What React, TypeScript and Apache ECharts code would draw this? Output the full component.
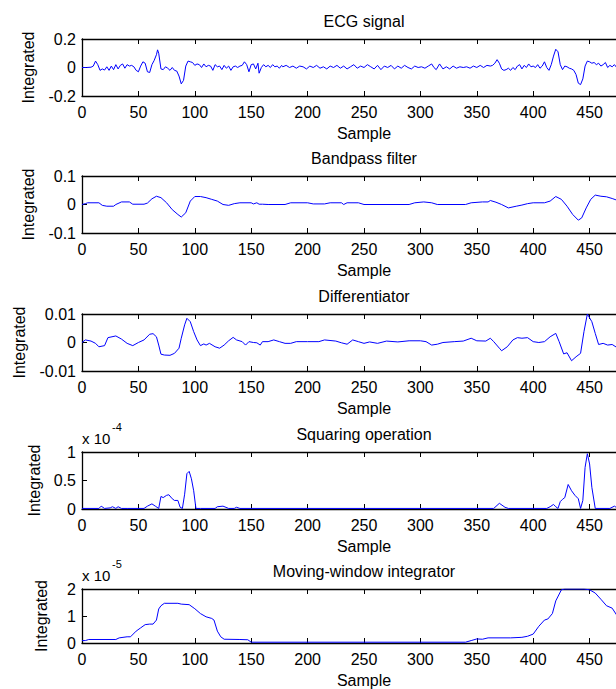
import React, { useEffect, useRef } from "react";
import * as echarts from "echarts";

// ---- Data (sample index, value) ----
const ecgX = [0,4,8,10,12,14,16,18,20,22,24,26,28,30,32,34,36,38,40,42,44,46,48,50,52,54,56,58,60,62,64,66,67,68,70,72,74,76,78,80,82,84,86,88,90,92,94,96,98,100,102,104,106,108,110,112,114,116,118,120,122,124,126,128,130,132,134,136,138,140,142,144,146,148,150,152,154,156,157,159,161,163,165,167,169,171,173,175,177,178,181,184,187,190,193,196,199,202,205,208,211,214,217,220,223,226,229,232,235,238,241,244,247,250,253,256,259,262,265,268,271,274,277,280,283,286,289,292,295,298,301,304,307,310,312,314,317,320,323,326,329,332,335,338,341,344,347,350,353,356,359,362,364,366,368,370,372,374,376,378,380,382,384,386,388,390,392,394,396,398,400,402,404,406,408,410,412,414,416,418,420,422,424,426,428,430,432,434,436,438,440,442,444,446,448,450,452,454,456,458,460,462,464,466,468,470,472,474,476,478];
const ecgY = [0,0,0.002,0.01,0.045,0.02,-0.02,-0.01,-0.018,0.005,-0.02,0.01,-0.015,0.02,-0.01,0.015,0.025,-0.005,0.02,0.01,0.015,0.005,-0.02,-0.03,0.01,0.04,0.03,-0.03,-0.035,0.02,0.05,0.09,0.124,0.1,-0.01,-0.015,0.005,-0.005,-0.02,0,-0.02,-0.025,-0.06,-0.115,-0.09,0.01,0.045,0.04,0.035,0.015,0.025,0.02,0,0.025,0.005,0.015,0.01,-0.02,0.02,0.005,0.01,-0.015,0.015,-0.005,0.01,-0.02,0.005,0.01,0,0.01,0.015,0.04,0.02,-0.03,0.02,0.025,-0.01,0.03,-0.04,0,0.02,0.005,0.015,0,0.02,0.005,0.01,-0.005,0.015,0.005,0.015,0,0.01,-0.005,0.01,0.005,-0.01,0.01,0,0.015,-0.005,0.005,-0.01,0.01,0,0.015,-0.005,0.01,-0.01,0.005,0.02,-0.005,0.01,0,0.02,0.005,-0.01,0.015,-0.015,0.01,0,0.015,-0.01,0.01,-0.005,0.015,0,-0.01,0.01,0,0.005,-0.005,0.01,0.025,0,-0.015,0.025,-0.01,0.005,-0.01,0.01,-0.005,0.005,0,0.005,-0.005,0.01,0,0.015,0,0.015,0.01,0.015,0.03,0.055,0.03,-0.01,-0.02,-0.015,-0.005,-0.02,0,-0.015,0.01,0.02,-0.01,0.015,0,0.025,0.005,0.01,0,0.02,-0.005,0.01,0.04,0,-0.02,0.02,0.08,0.128,0.11,0.02,-0.015,0.01,0.005,-0.005,-0.01,-0.02,-0.05,-0.11,-0.12,-0.08,0.01,0.045,0.04,0.03,0.035,0.02,0.03,0.01,0.02,0.035,0,0.015,0.005,0.02,0,0.01,0];

const bpX = [0,3,5,15,18,22,28,30,35,42,45,55,58,62,66,70,75,80,85,88,92,96,100,105,110,115,120,125,130,135,140,150,152,155,157,160,165,180,185,200,205,215,220,230,232,235,245,250,290,295,303,310,315,340,345,355,360,362,367,372,378,385,390,395,400,410,415,420,425,430,435,440,443,447,451,455,460,465,470,475,480];
const bpY = [0,0.003,0.006,0.006,-0.003,-0.006,-0.006,0,0.009,0.009,0.001,0.001,0.005,0.02,0.029,0.024,0.006,-0.018,-0.035,-0.044,-0.029,0.012,0.028,0.028,0.024,0.018,0.012,0,-0.003,0.003,0.006,0.006,0.002,0.006,0.001,0.001,0,0,0.006,0.006,0.002,0.002,0.006,0.006,0,0.006,0.006,0,0,0.006,0.009,0.006,0,0,0.006,0.009,0.009,0.014,0.008,0,-0.012,-0.006,-0.002,0.003,0.006,0.006,0.012,0.028,0.018,-0.006,-0.035,-0.055,-0.047,-0.012,0.018,0.033,0.029,0.027,0.021,0.014,0.008];

const dfX = [0,3,8,12,15,20,23,30,35,40,45,50,55,60,63,66,68,70,73,78,82,86,88,91,93,96,99,102,105,108,110,113,118,122,126,130,134,137,142,145,148,152,155,158,160,165,170,175,180,185,190,200,210,215,225,230,235,240,245,250,255,262,270,280,290,300,305,310,315,320,330,338,345,350,358,362,365,370,372,377,382,386,390,395,400,405,410,415,420,423,427,430,434,438,442,445,448,452,455,458,462,466,470,474,478];
const dfY = [0,0.0009,0.0005,-0.0003,-0.0015,-0.0011,0.0017,0.0023,0.0012,-0.0003,-0.0011,0,0.0009,0.0029,0.0031,0.002,-0.0009,-0.0041,-0.0044,-0.0045,-0.0038,-0.002,0.0015,0.0062,0.0085,0.0073,0.0038,0.0009,-0.0011,-0.0005,-0.0009,-0.0003,-0.0015,-0.002,-0.0009,0.0006,0.0018,0.0009,0.0003,-0.0009,0.0003,0,-0.0001,-0.0009,0.0003,0.0003,0.0009,0.0003,-0.0003,-0.0003,0.0003,0.0003,0.0003,0.0009,0.0005,-0.0001,-0.0006,0.0009,0.0003,-0.0003,0.0002,-0.0003,0.0005,0.0002,0.0006,0.0006,0.0003,-0.0009,-0.0006,0,0.0003,0.0005,0.0015,0.0006,0.0005,0.0015,0.0003,-0.002,-0.0029,-0.0015,0.0009,0.0017,0.0015,0.0017,0.0003,0,0.0003,0.002,0.0032,0.0003,-0.004,-0.0036,-0.0064,-0.005,-0.0038,0.0038,0.01,0.0073,0.0032,-0.0007,-0.0003,-0.0009,-0.0007,-0.0017,-0.0017];

// Squaring operation, in units of 1e-4
const sqX = [0,15,17,20,25,27,30,32,35,40,55,58,62,65,68,70,72,75,77,80,82,85,87,89,91,93,95,97,99,101,105,118,120,125,130,135,137,140,365,370,375,378,412,415,418,420,422,424,426,428,431,434,437,440,442,444,446,448,450,452,455,468,472,475,480];
const sqY = [0.01,0.01,0.05,0.01,0.02,0.04,0.01,0.04,0.01,0.01,0.01,0.05,0.09,0.05,0.01,0.22,0.2,0.24,0.25,0.18,0.15,0.15,0.03,0.01,0.26,0.62,0.66,0.53,0.32,0.01,0.01,0.01,0.04,0.05,0.01,0.01,0.03,0.01,0.01,0.1,0.03,0.01,0.01,0.04,0.08,0.04,0.01,0.13,0.17,0.2,0.43,0.32,0.24,0.18,0.01,0.15,0.73,0.97,0.79,0.38,0.01,0.01,0.05,0.01,0.01];

// Moving-window integrator, in units of 1e-5
const mwX = [0,3,6,30,33,40,43,48,52,56,60,63,66,68,70,73,85,88,95,100,105,110,115,117,120,123,126,140,147,150,340,345,350,355,360,380,390,395,400,405,410,413,417,420,425,428,445,450,455,460,465,470,475,480];
const mwY = [0.09,0.09,0.13,0.13,0.19,0.23,0.23,0.44,0.56,0.68,0.7,0.7,0.85,1.26,1.38,1.47,1.47,1.44,1.42,1.27,1.09,0.97,0.91,0.85,0.44,0.23,0.14,0.13,0.12,0.03,0.03,0.09,0.15,0.14,0.19,0.19,0.21,0.25,0.33,0.62,0.85,0.89,1.09,1.56,1.97,2,2,1.97,1.85,1.62,1.38,1.29,0.97,0.7];

const titles = ["ECG signal", "Bandpass filter", "Differentiator", "Squaring operation", "Moving-window integrator"];
const yMins = [-0.2, -0.1, -0.01, 0, 0];
const yMaxs = [0.2, 0.1, 0.01, 1, 2];
const yIntervals = [0.2, 0.1, 0.01, 0.5, 1];
const exponents = ["", "", "", "-4", "-5"];
const xTicksMax = 500;
const xInterval = 50;

// ---- layout ----
const GRID_LEFT = 82;
const GRID_WIDTH = 564;
const GRID_H = 57;
const gridTops = [39, 176, 314, 452, 589];
const yNameGaps = [46, 46, 55, 40, 33];
const FONT = "'Liberation Sans', Arial, Helvetica, sans-serif";

export default function App() {
  const ref = useRef<HTMLDivElement>(null);
  useEffect(() => {
    if (!ref.current) return;
    const chart = echarts.init(ref.current, null, { renderer: "svg" });
    const seriesData = [
      ecgX.map((x, i) => [x, ecgY[i]]),
      bpX.map((x, i) => [x, bpY[i]]),
      dfX.map((x, i) => [x, dfY[i]]),
      sqX.map((x, i) => [x, sqY[i]]),
      mwX.map((x, i) => [x, mwY[i]]),
    ];
    const axisLine = { show: true, onZero: false, lineStyle: { color: "#000", width: 1.3 } };
    const tick = { show: true, inside: true, length: 5, lineStyle: { color: "#000", width: 1 } };
    const grids: any[] = [];
    const xAxes: any[] = [];
    const yAxes: any[] = [];
    const series: any[] = [];
    const titleArr: any[] = [];
    const graphics: any[] = [];
    gridTops.forEach((top, i) => {
      grids.push({ left: GRID_LEFT, top, width: GRID_WIDTH, height: GRID_H, containLabel: false });
      xAxes.push({
        type: "value", gridIndex: i, min: 0, max: xTicksMax, interval: xInterval, position: "bottom",
        axisLine, axisTick: tick,
        axisLabel: { color: "#000", fontSize: 16, fontFamily: FONT, margin: 8, showMaxLabel: false },
        splitLine: { show: false },
        name: "Sample", nameLocation: "middle", nameGap: 29,
        nameTextStyle: { color: "#000", fontSize: 16, fontFamily: FONT },
      });
      xAxes.push({
        type: "value", gridIndex: i, min: 0, max: xTicksMax, interval: xInterval, position: "top",
        axisLine, axisTick: tick,
        axisLabel: { show: false }, splitLine: { show: false },
      });
      yAxes.push({
        type: "value", gridIndex: i, min: yMins[i], max: yMaxs[i], interval: yIntervals[i],
        axisLine, axisTick: tick,
        axisLabel: { color: "#000", fontSize: 16, fontFamily: FONT, margin: 6 },
        splitLine: { show: false },
        name: "Integrated", nameLocation: "middle", nameGap: yNameGaps[i], nameRotate: 90,
        nameTextStyle: { color: "#000", fontSize: 16, fontFamily: FONT },
      });
      series.push({
        type: "line", xAxisIndex: i * 2, yAxisIndex: i, data: seriesData[i],
        showSymbol: false, symbol: "none", clip: true,
        lineStyle: { color: "#0000ff", width: 1 },
      });
      titleArr.push({
        text: titles[i], left: GRID_LEFT + GRID_WIDTH / 2, top: top - 26, textAlign: "center",
        textStyle: { color: "#000", fontSize: 16, fontWeight: "normal", fontFamily: FONT },
        padding: 0,
      });
      if (exponents[i]) {
        graphics.push({
          type: "text", left: GRID_LEFT, top: top - 21,
          style: { text: "x 10", fill: "#000", font: `15px ${FONT}` },
        });
        graphics.push({
          type: "text", left: GRID_LEFT + 30, top: top - 31,
          style: { text: exponents[i], fill: "#000", font: `11px ${FONT}` },
        });
      }
    });
    chart.setOption({
      animation: false,
      backgroundColor: "#fff",
      title: titleArr,
      grid: grids,
      xAxis: xAxes,
      yAxis: yAxes,
      series,
      graphic: graphics,
    });
    return () => chart.dispose();
  }, []);
  return (
    <div style={{ position: "fixed", left: 0, top: 0, width: 616, height: 689, overflow: "hidden", background: "#fff" }}>
      <div ref={ref} style={{ width: 700, height: 689 }} />
    </div>
  );
}
